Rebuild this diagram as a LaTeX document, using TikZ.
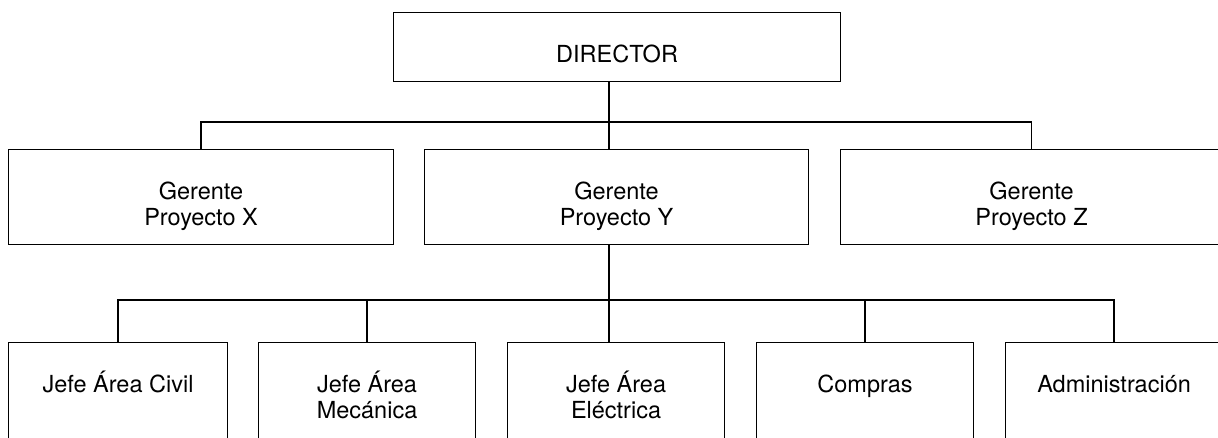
\documentclass[tikz,border=0pt]{standalone}
\usepackage{fontspec}
\setmainfont{TeX Gyre Heros}
\begin{document}
\begin{tikzpicture}[x=1pt,y=-1pt,
  box/.style={draw, line width=1.1pt, rectangle, inner sep=0pt, anchor=north west, minimum height=#1},
  box/.default=95pt,
  wire/.style={line width=1.8pt},
  txt/.style={anchor=north, inner sep=0pt, yshift=-26pt, align=center,
    font=\fontsize{23.5}{26}\selectfont},
]
\clip (0,0) rectangle (1218,437);
\fill[white] (0,0) rectangle (1218,437);

% top level
\node[box=69pt, minimum width=447pt,
  label={[txt]north:{\rule{0pt}{24pt}DIRECTOR}}] (dir) at (393,12) {};

% project managers
\node[box, minimum width=385pt,
  label={[txt]north:{\rule{0pt}{24pt}Gerente\\Proyecto X}}] (gx) at (8,149) {};
\node[box, minimum width=384pt,
  label={[txt]north:{\rule{0pt}{24pt}Gerente\\Proyecto Y}}] (gy) at (424,149) {};
\node[box, minimum width=382pt,
  label={[txt]north:{\rule{0pt}{24pt}Gerente\\Proyecto Z}}] (gz) at (840,149) {};

% areas under project Y
\node[box=120pt, minimum width=219pt,
  label={[txt]north:{\rule{0pt}{24pt}Jefe Área Civil}}] (civ) at (8,342) {};
\node[box=120pt, minimum width=217pt,
  label={[txt]north:{\rule{0pt}{24pt}Jefe Área\\Mecánica}}] (mec) at (258,342) {};
\node[box=120pt, minimum width=217pt,
  label={[txt]north:{\rule{0pt}{24pt}Jefe Área\\Eléctrica}}] (ele) at (507,342) {};
\node[box=120pt, minimum width=217pt,
  label={[txt]north:{\rule{0pt}{24pt}Compras}}] (com) at (756,342) {};
\node[box=120pt, minimum width=217pt,
  label={[txt]north:{\rule{0pt}{24pt}Administración}}] (adm) at (1005,342) {};

% connector geometry
\coordinate (spine) at (609,0);
\coordinate (busA) at (0,122);
\coordinate (busB) at (0,300);

% director to managers
\draw[wire] (dir.south -| spine) -- (gy.north -| spine);
\draw[wire] (gx.north) -- (gx.north |- busA) -- (gz.north |- busA) -- (gz.north);

% manager Y to areas
\draw[wire] (gy.south -| spine) -- (ele.north -| spine);
\draw[wire] (civ.north) -- (civ.north |- busB) -- (adm.north |- busB) -- (adm.north);
\draw[wire] (mec.north) -- (mec.north |- busB);
\draw[wire] (com.north) -- (com.north |- busB);
\end{tikzpicture}
\end{document}
